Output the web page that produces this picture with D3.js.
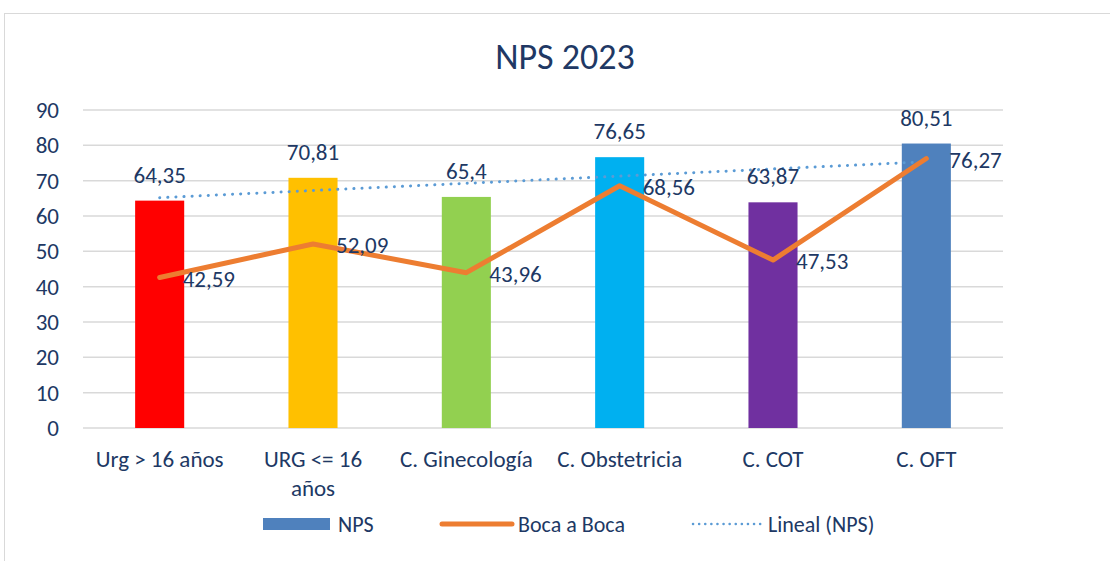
<!DOCTYPE html>
<html>
<head>
<meta charset="utf-8">
<script src="https://cdn.jsdelivr.net/npm/d3@7"></script>
<style>
  body { margin: 0; background: #fff; }
  text { font-family: Carlito, "Open Sans", sans-serif; fill: #203864; }
</style>
</head>
<body>
<div id="chart"></div>
<script>
// chart data
var categories = ["Urg > 16 años", "URG <= 16 años", "C. Ginecología", "C. Obstetricia", "C. COT", "C. OFT"];
var npsValues = [64.35, 70.81, 65.4, 76.65, 63.87, 80.51];
var bocaValues = [42.59, 52.09, 43.96, 68.56, 47.53, 76.27];
var barColors = ["#ff0000", "#ffc000", "#92d050", "#00b0f0", "#7030a0", "#4f81bd"];
var yTicks = [0, 10, 20, 30, 40, 50, 60, 70, 80, 90];

var svgWidth = 1110;
var svgHeight = 561;

var margin = { top: 110, right: 107, bottom: 133, left: 83 };
var chartWidth = svgWidth - margin.left - margin.right;
var chartHeight = svgHeight - margin.top - margin.bottom;

var fmt = function(v) { return String(v).replace(".", ","); };

var svg = d3.select("#chart")
  .append("svg")
  .attr("width", svgWidth)
  .attr("height", svgHeight);

// outer frame like the excel chart area
svg.append("rect")
  .attr("x", 4.5).attr("y", 13.5)
  .attr("width", svgWidth).attr("height", svgHeight)
  .attr("fill", "none")
  .attr("stroke", "#d9d9d9");

svg.append("text")
  .attr("x", 565).attr("y", 69)
  .attr("text-anchor", "middle")
  .attr("font-size", "36px")
  .text("NPS 2023");

var chartGroup = svg.append("g")
  .attr("transform", `translate(${margin.left}, ${margin.top})`);

var xScale = d3.scaleBand()
  .domain(categories)
  .range([0, chartWidth])
  .paddingInner(0.68)
  .paddingOuter(0.34);

var yScale = d3.scaleLinear()
  .domain([0, 90])
  .range([chartHeight, 0]);

var cx = d => xScale(d) + xScale.bandwidth() / 2;

// gridlines
chartGroup.selectAll(".grid")
  .data(yTicks)
  .enter()
  .append("line")
  .attr("x1", 0).attr("x2", chartWidth)
  .attr("y1", d => yScale(d)).attr("y2", d => yScale(d))
  .attr("stroke", "#d9d9d9")
  .attr("stroke-width", 1.5);

// y axis
var leftAxis = d3.axisLeft(yScale).tickValues(yTicks).tickSize(0).tickPadding(24);
var yAxis = chartGroup.append("g").call(leftAxis);
yAxis.select(".domain").remove();
yAxis.selectAll("text")
  .attr("font-size", "23px")
  .attr("font-family", "Carlito, 'Open Sans', sans-serif")
  .attr("fill", "#203864");

// bars
chartGroup.selectAll(".bar")
  .data(categories)
  .enter()
  .append("rect")
  .attr("x", d => xScale(d))
  .attr("y", (d, i) => yScale(npsValues[i]))
  .attr("width", xScale.bandwidth())
  .attr("height", (d, i) => chartHeight - yScale(npsValues[i]))
  .attr("fill", (d, i) => barColors[i]);

// trend line (linear fit of NPS)
var xs = categories.map((d, i) => i + 1);
var mx = d3.mean(xs), my = d3.mean(npsValues);
var slope = d3.sum(xs, (x, i) => (x - mx) * (npsValues[i] - my)) / d3.sum(xs, x => (x - mx) * (x - mx));
var trend = x => my + slope * (x - mx);

chartGroup.append("line")
  .attr("x1", cx(categories[0]))
  .attr("x2", cx(categories[5]))
  .attr("y1", yScale(trend(1)))
  .attr("y2", yScale(trend(6)))
  .attr("stroke", "#5b9bd5")
  .attr("stroke-width", 3)
  .attr("stroke-linecap", "round")
  .attr("stroke-dasharray", "0.1 8");

// boca a boca line
var line = d3.line()
  .x((d, i) => cx(categories[i]))
  .y(d => yScale(d));

chartGroup.append("path")
  .datum(bocaValues)
  .attr("d", line)
  .attr("fill", "none")
  .attr("stroke", "#ed7d31")
  .attr("stroke-width", 5)
  .attr("stroke-linecap", "round")
  .attr("stroke-linejoin", "round");

// bar labels
chartGroup.selectAll(".barLabel")
  .data(categories)
  .enter()
  .append("text")
  .attr("x", d => cx(d))
  .attr("y", (d, i) => yScale(npsValues[i]) - 18)
  .attr("text-anchor", "middle")
  .attr("font-size", "23px")
  .text((d, i) => fmt(npsValues[i]));

// line labels
chartGroup.selectAll(".lineLabel")
  .data(categories)
  .enter()
  .append("text")
  .attr("x", d => cx(d) + 23)
  .attr("y", (d, i) => yScale(bocaValues[i]))
  .attr("dy", "0.4em")
  .attr("font-size", "23px")
  .text((d, i) => fmt(bocaValues[i]));

// category labels, wrap into band width
var catLabel = chartGroup.selectAll(".cat")
  .data(categories)
  .enter()
  .append("text")
  .attr("x", d => cx(d))
  .attr("y", chartHeight + 39)
  .attr("text-anchor", "middle")
  .attr("font-size", "23px");

catLabel.each(function(d) {
  var parts = d === "URG <= 16 años" ? ["URG <= 16", "años"] : [d];
  var t = d3.select(this);
  parts.forEach(function(p, j) {
    t.append("tspan").attr("x", cx(d)).attr("dy", j === 0 ? 0 : 29).text(p);
  });
});

// legend
var legend = svg.append("g").attr("transform", "translate(0, 524)");
legend.append("rect")
  .attr("x", 263).attr("y", -6).attr("width", 67).attr("height", 12)
  .attr("fill", "#4f81bd");
legend.append("text").attr("x", 338).attr("y", 0).attr("dy", "0.35em")
  .attr("font-size", "22px").text("NPS");

legend.append("line")
  .attr("x1", 442).attr("x2", 512).attr("y1", 0).attr("y2", 0)
  .attr("stroke", "#ed7d31").attr("stroke-width", 5).attr("stroke-linecap", "round");
legend.append("text").attr("x", 518).attr("y", 0).attr("dy", "0.35em")
  .attr("font-size", "22px").text("Boca a Boca");

legend.append("line")
  .attr("x1", 693).attr("x2", 762).attr("y1", 0).attr("y2", 0)
  .attr("stroke", "#5b9bd5").attr("stroke-width", 2.5)
  .attr("stroke-linecap", "round").attr("stroke-dasharray", "0.1 6");
legend.append("text").attr("x", 768).attr("y", 0).attr("dy", "0.35em")
  .attr("font-size", "22px").text("Lineal (NPS)");
</script>
</body>
</html>
